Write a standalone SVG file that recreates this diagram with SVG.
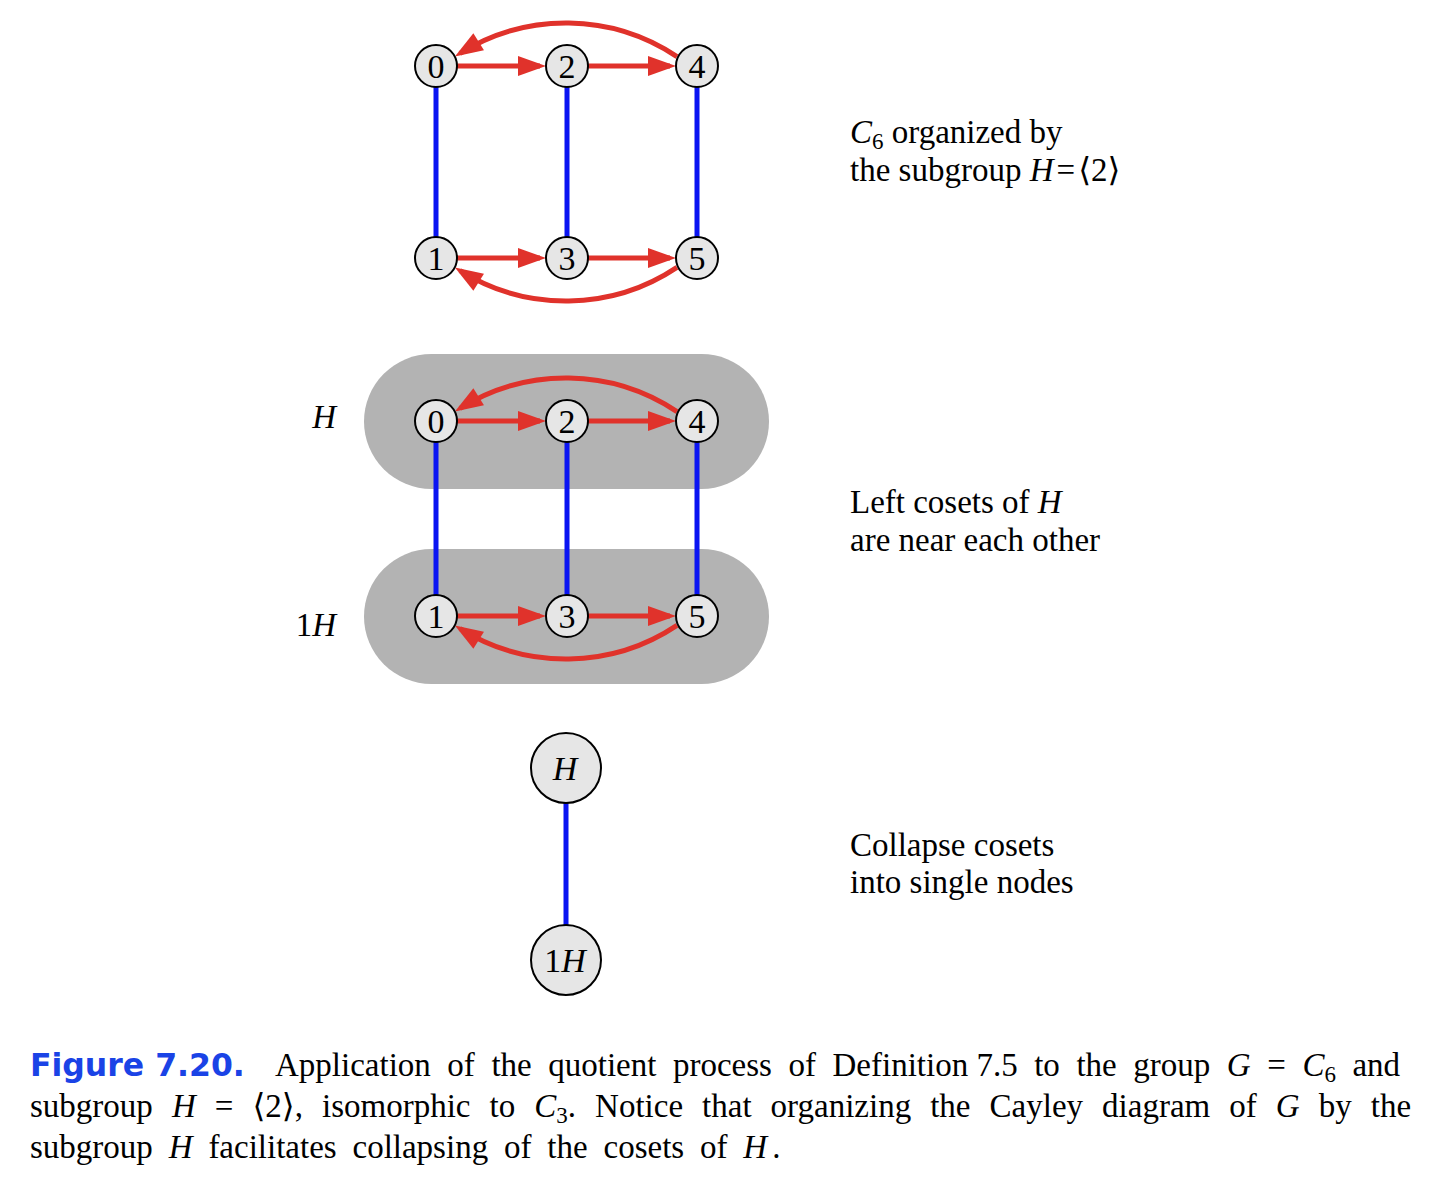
<svg xmlns="http://www.w3.org/2000/svg" width="1436" height="1184" viewBox="0 0 1436 1184">
<style>
.bg{fill:#ffffff}
.coset{fill:#b3b3b3}
.node circle{fill:#e6e6e6;stroke:#000;stroke-width:2}
.node text{font-family:"Liberation Serif","Times New Roman","DejaVu Serif",serif;font-size:34px;text-anchor:middle;fill:#000}
.blue{stroke:#0a14f2;stroke-width:5;fill:none}
.red{stroke:#e0322b;stroke-width:5;fill:none;marker-end:url(#ah)}
.t{font-family:"Liberation Serif","Times New Roman","DejaVu Serif",serif;font-size:33px;fill:#000}
.i{font-style:italic}
.fig{font-family:"DejaVu Sans",sans-serif;font-weight:bold;font-size:31.5px;fill:#1a43e6}
</style>
<defs>
<marker id="ah" markerUnits="userSpaceOnUse" markerWidth="30" markerHeight="22" viewBox="0 0 30 22" refX="22" refY="10" orient="auto" overflow="visible">
<path d="M0,0 L28,10 L0,20 z" fill="#e0322b"/>
</marker>
</defs>
<rect class="bg" x="0" y="0" width="1436" height="1184"/>

<g id="cosets">
<rect id="coset-H" class="coset" x="364" y="354" width="405" height="135" rx="67.5" ry="67.5"/>
<rect id="coset-1H" class="coset" x="364" y="549" width="405" height="135" rx="67.5" ry="67.5"/>
</g>

<g id="connectors">
<!-- top diagram -->
<line class="blue" x1="436" y1="66" x2="436" y2="258"/>
<line class="blue" x1="567" y1="66" x2="567" y2="258"/>
<line class="blue" x1="697" y1="66" x2="697" y2="258"/>
<path class="red" d="M457,66 L540,66"/>
<path class="red" d="M588,66 L670,66"/>
<path class="red" d="M677,56.6 A200,200 0 0 0 460,53.4"/>
<path class="red" d="M457,258 L540,258"/>
<path class="red" d="M588,258 L670,258"/>
<path class="red" d="M677,267.4 A200,200 0 0 1 460,270.6"/>
<!-- middle diagram -->
<line class="blue" x1="436" y1="421" x2="436" y2="616"/>
<line class="blue" x1="567" y1="421" x2="567" y2="616"/>
<line class="blue" x1="697" y1="421" x2="697" y2="616"/>
<path class="red" d="M457,421 L540,421"/>
<path class="red" d="M588,421 L670,421"/>
<path class="red" d="M677,411.6 A200,200 0 0 0 460,408.4"/>
<path class="red" d="M457,616 L540,616"/>
<path class="red" d="M588,616 L670,616"/>
<path class="red" d="M677,625.4 A200,200 0 0 1 460,628.6"/>
<!-- quotient -->
<line class="blue" x1="566" y1="768" x2="566" y2="960"/>
</g>

<g id="top-nodes">
<g id="t0" class="node"><circle cx="436" cy="66" r="21"/><text x="436" y="77.5">0</text></g>
<g id="t2" class="node"><circle cx="567" cy="66" r="21"/><text x="567" y="77.5">2</text></g>
<g id="t4" class="node"><circle cx="697" cy="66" r="21"/><text x="697" y="77.5">4</text></g>
<g id="t1" class="node"><circle cx="436" cy="258" r="21"/><text x="436" y="269.5">1</text></g>
<g id="t3" class="node"><circle cx="567" cy="258" r="21"/><text x="567" y="269.5">3</text></g>
<g id="t5" class="node"><circle cx="697" cy="258" r="21"/><text x="697" y="269.5">5</text></g>
</g>

<g id="mid-nodes">
<g id="m0" class="node"><circle cx="436" cy="421" r="21"/><text x="436" y="432.5">0</text></g>
<g id="m2" class="node"><circle cx="567" cy="421" r="21"/><text x="567" y="432.5">2</text></g>
<g id="m4" class="node"><circle cx="697" cy="421" r="21"/><text x="697" y="432.5">4</text></g>
<g id="m1" class="node"><circle cx="436" cy="616" r="21"/><text x="436" y="627.5">1</text></g>
<g id="m3" class="node"><circle cx="567" cy="616" r="21"/><text x="567" y="627.5">3</text></g>
<g id="m5" class="node"><circle cx="697" cy="616" r="21"/><text x="697" y="627.5">5</text></g>
</g>

<g id="quotient-nodes">
<g id="qH" class="node"><circle cx="566" cy="768" r="35"/><text x="565" y="780" class="i">H</text></g>
<g id="q1H" class="node"><circle cx="566" cy="960" r="35"/><text x="565" y="972">1<tspan class="i">H</tspan></text></g>
</g>

<g id="labels">
<text class="t i" x="336" y="428" text-anchor="end" font-size="34">H</text>
<text class="t" x="336" y="636" text-anchor="end" font-size="34">1<tspan class="i">H</tspan></text>

<text class="t" x="850" y="143"><tspan class="i">C</tspan><tspan font-size="23" dy="6">6</tspan><tspan dy="-6"> organized by</tspan></text>
<text class="t" x="850" y="181">the subgroup <tspan class="i">H</tspan><tspan dx="3">=</tspan><tspan dx="3">⟨2⟩</tspan></text>

<text class="t" x="850" y="513">Left cosets of <tspan class="i">H</tspan></text>
<text class="t" x="850" y="551">are near each other</text>

<text class="t" x="850" y="856">Collapse cosets</text>
<text class="t" x="850" y="893">into single nodes</text>
</g>

<g id="caption">
<text class="fig" x="30" y="1076">Figure 7.20.</text>
<text class="t" x="275" y="1076" word-spacing="8.3">Application of the quotient process of Definition<tspan word-spacing="0"> 7.5</tspan> to the group <tspan class="i">G</tspan> = <tspan class="i">C</tspan><tspan font-size="23" dy="6">6</tspan><tspan dy="-6"> and</tspan></text>
<text class="t" x="30" y="1117" word-spacing="10.8">subgroup <tspan class="i">H</tspan> = ⟨2⟩, isomorphic to <tspan class="i">C</tspan><tspan font-size="23" dy="6">3</tspan><tspan dy="-6">. Notice that organizing the Cayley diagram of </tspan><tspan class="i">G</tspan> by the</text>
<text class="t" x="30" y="1158" word-spacing="7.6">subgroup <tspan class="i">H</tspan> facilitates collapsing of the cosets of <tspan class="i">H</tspan><tspan dx="5">.</tspan></text>
</g>
</svg>
